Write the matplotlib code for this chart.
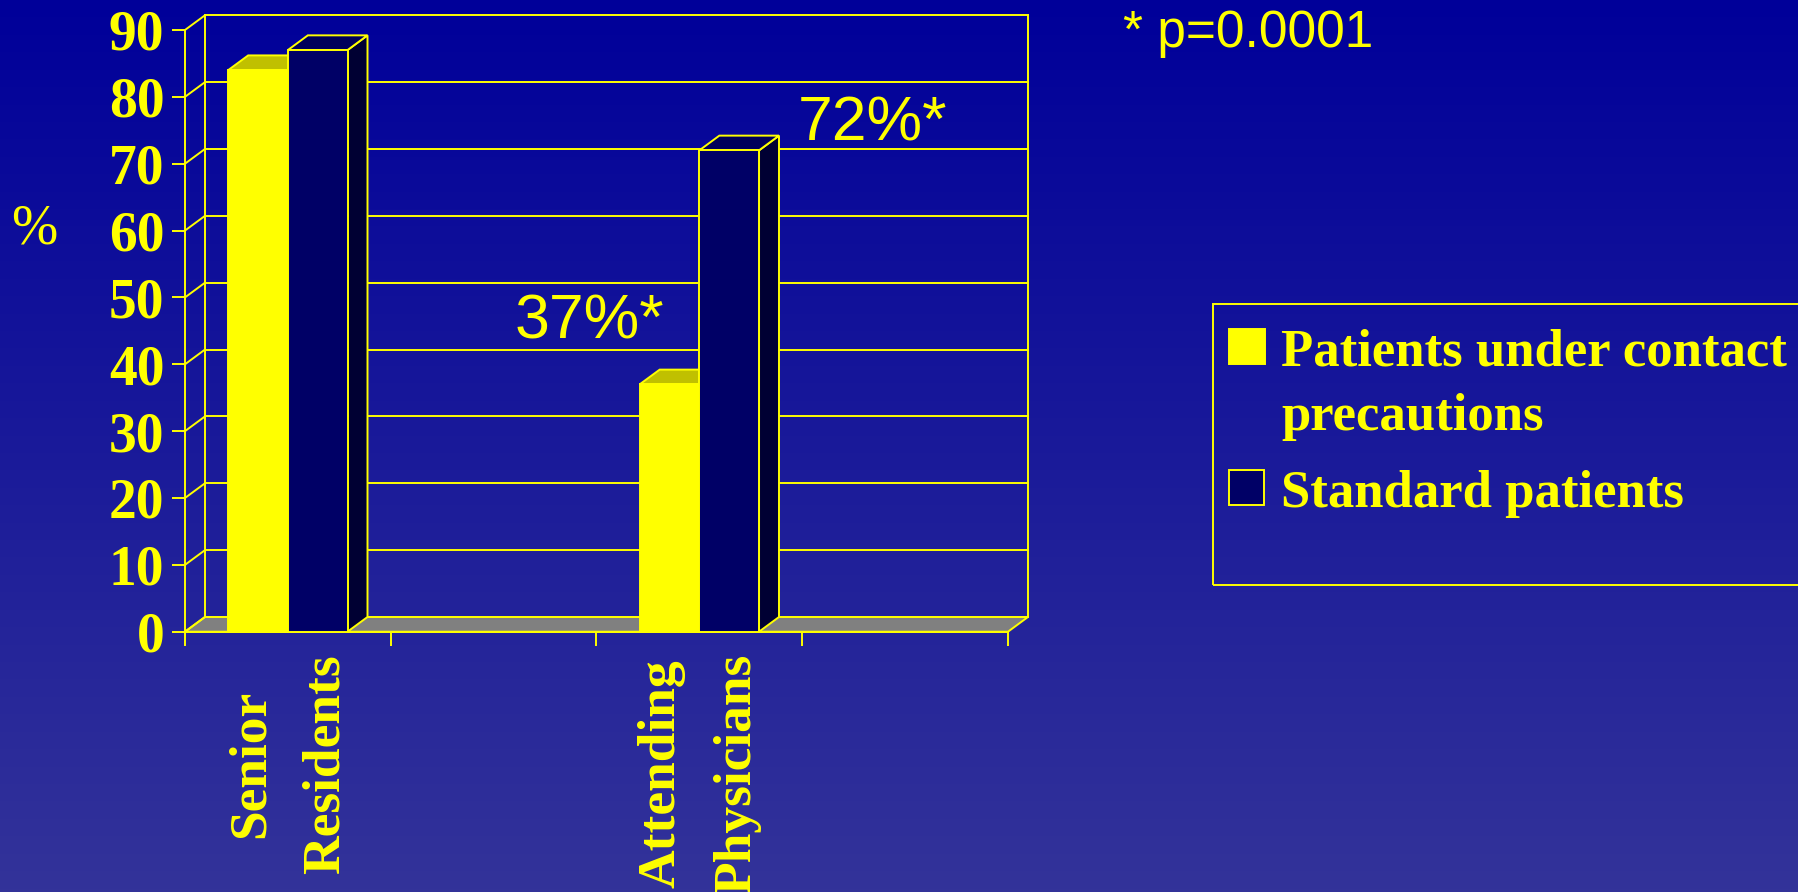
import numpy as np
import matplotlib

matplotlib.use("Agg")
import matplotlib.pyplot as plt
from matplotlib.patches import Polygon, Rectangle

# slide palette
YELLOW = "#ffff00"
YELLOW_TOP = "#c0c000"
NAVY = "#000066"
NAVY_TOP = "#00005a"
NAVY_SIDE = "#000033"
FLOOR = "#808080"
BG_TOP = "#000099"
BG_BOTTOM = "#333399"
SERIF = "Liberation Serif"
SANS = "Liberation Sans"

# four category slots, the 2nd and 4th are empty
categories = ["Senior\nResidents", "", "Attending\nPhysicians", ""]
contact_pct = [84, np.nan, 37, np.nan]
standard_pct = [87, np.nan, 72, np.nan]
series_names = ["Patients under contact", "precautions", "Standard patients"]
y_ticks = [0, 10, 20, 30, 40, 50, 60, 70, 80, 90]
p_note = "* p=0.0001"

W, H = 1799, 892
DX, DY = 0.097, 2.2      # depth offset of the pseudo-3D box (slot units, %)
BAR_W = 0.29
LW = 1.4


def fx(x):
    return x / W


def fy(y):
    return 1 - y / H


def bar3d(ax, x0, h, face, top, side):
    kw = dict(edgecolor=YELLOW, linewidth=LW, clip_on=False, zorder=4)
    ax.add_patch(Polygon([(x0 + BAR_W, 0), (x0 + BAR_W + DX, DY),
                          (x0 + BAR_W + DX, h + DY), (x0 + BAR_W, h)],
                         facecolor=side, **kw))
    ax.add_patch(Polygon([(x0, h), (x0 + BAR_W, h), (x0 + BAR_W + DX, h + DY),
                          (x0 + DX, h + DY)], facecolor=top, **kw))
    ax.add_patch(Rectangle((x0, 0), BAR_W, h, facecolor=face, **kw))


fig = plt.figure(figsize=(W / 100, H / 100), dpi=100)

# vertical gradient backdrop
bg = fig.add_axes([0, 0, 1, 1], zorder=-10)
c0 = np.array(matplotlib.colors.to_rgb(BG_TOP))
c1 = np.array(matplotlib.colors.to_rgb(BG_BOTTOM))
t = np.linspace(0, 1, 256)[:, None, None]
bg.imshow(c0 + (c1 - c0) * t, aspect="auto", extent=(0, 1, 0, 1))
bg.set_axis_off()

ax = fig.add_axes([185 / W, (H - 631.7) / H, 823 / W, 601.7 / H])
ax.set_facecolor("none")
n = len(categories)
ax.set_xlim(0, n)
ax.set_ylim(0, 90)

# back wall, left wall and floor
line_kw = dict(color=YELLOW, linewidth=LW, clip_on=False, zorder=1)
ax.add_patch(Polygon([(0, 0), (n, 0), (n + DX, DY), (DX, DY)], facecolor=FLOOR,
                     edgecolor=YELLOW, linewidth=LW, clip_on=False, zorder=1))
for v in y_ticks:
    ax.plot([0, DX], [v, v + DY], **line_kw)
    ax.plot([DX, n + DX], [v + DY, v + DY], **line_kw)
ax.plot([DX, DX], [DY, 90 + DY], **line_kw)
ax.plot([n + DX, n + DX], [DY, 90 + DY], **line_kw)

for i in range(n):
    if np.isnan(contact_pct[i]):
        continue
    bar3d(ax, i + 0.5 - BAR_W, contact_pct[i], YELLOW, YELLOW_TOP, YELLOW)
    bar3d(ax, i + 0.5, standard_pct[i], NAVY, NAVY_TOP, NAVY_SIDE)

# significance labels on the attending group
ax.text(1.6, 37 + 6.9, "37%*", fontsize=45, family=SANS, color=YELLOW,
        ha="left", va="baseline")
ax.text(2.98, 72 + 1.5, "72%*", fontsize=45, family=SANS, color=YELLOW,
        ha="left", va="baseline")

for side in ("top", "right"):
    ax.spines[side].set_visible(False)
ax.spines["left"].set_color(YELLOW)
ax.spines["bottom"].set_color(YELLOW)
ax.spines["left"].set_linewidth(LW)
ax.spines["bottom"].set_linewidth(LW)
ax.spines["left"].set_zorder(1.5)
ax.spines["bottom"].set_zorder(1.5)

ax.set_yticks(y_ticks)
ax.set_yticklabels([str(v) for v in y_ticks])
ax.tick_params(axis="y", direction="out", length=9.4, width=LW, color=YELLOW,
               pad=5.5, labelcolor=YELLOW)
for lab in ax.get_yticklabels():
    lab.set_fontfamily(SERIF)
    lab.set_fontweight("bold")
    lab.set_fontsize(40)

ax.set_xticks(np.arange(n + 1))
ax.set_xticklabels([])
ax.tick_params(axis="x", which="major", direction="out", length=10, width=LW,
               color=YELLOW)
ax.set_xticks(np.arange(n) + 0.5, minor=True)
ax.set_xticklabels(categories, minor=True, rotation=90, ha="center", va="top",
                   multialignment="center")
ax.tick_params(axis="x", which="minor", length=0, pad=16, labelcolor=YELLOW)
for lab in ax.get_xticklabels(minor=True):
    lab.set_fontfamily(SERIF)
    lab.set_fontweight("bold")
    lab.set_fontsize(38.5)
    lab.set_linespacing(1.73)

ax.set_ylabel("%", rotation=0, fontsize=40, family=SERIF, color=YELLOW,
              ha="center", va="center")
ax.yaxis.set_label_coords((34 - 185) / 823, (631.7 - 229) / 601.7)

fig.text(fx(1123), fy(47.3), p_note, fontsize=37, family=SANS, color=YELLOW,
         ha="left", va="baseline")

# legend panel
fig.patches.append(Rectangle((fx(1212.6), fy(584.7)), fx(1850) - fx(1212.6),
                             fy(304) - fy(584.7), transform=fig.transFigure,
                             facecolor="none", edgecolor=YELLOW, linewidth=LW))
fig.patches.append(Rectangle((fx(1229), fy(364)), fx(36), fy(329) - fy(364),
                             transform=fig.transFigure, facecolor=YELLOW,
                             edgecolor=YELLOW, linewidth=LW))
fig.patches.append(Rectangle((fx(1229), fy(505)), fx(35), fy(470) - fy(505),
                             transform=fig.transFigure, facecolor=NAVY,
                             edgecolor=YELLOW, linewidth=LW))
leg_kw = dict(fontsize=38, family=SERIF, fontweight="bold", color=YELLOW,
              ha="left", va="baseline")
fig.text(fx(1281.4), fy(365), series_names[0], **leg_kw)
fig.text(fx(1281.4), fy(430), series_names[1], **leg_kw)
fig.text(fx(1281.4), fy(506.7), series_names[2], **leg_kw)

fig.savefig("out.png", dpi=100)
